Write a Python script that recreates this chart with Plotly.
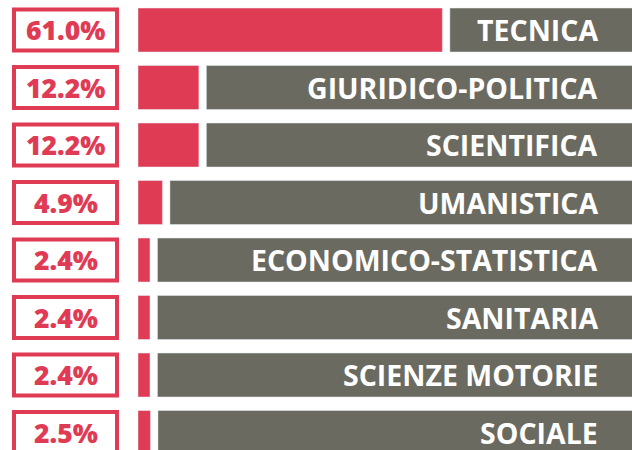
import plotly.graph_objects as go

categories = ["TECNICA", "GIURIDICO-POLITICA", "SCIENTIFICA", "UMANISTICA",
              "ECONOMICO-STATISTICA", "SANITARIA", "SCIENZE MOTORIE", "SOCIALE"]
values = [61.0, 12.2, 12.2, 4.9, 2.4, 2.4, 2.4, 2.5]

RED = "#E03B55"
GRAY = "#6B6A60"
GAP = 1.5
W, H = 632, 450
L = 138

rows = list(range(len(categories)))

fig = go.Figure()
fig.add_bar(y=rows, x=values, base=0, orientation="h", marker_color=RED,
            width=0.765, hoverinfo="skip")
fig.add_bar(y=rows, x=[100 - v - GAP for v in values], base=[v + GAP for v in values],
            orientation="h", marker_color=GRAY, width=0.765, hoverinfo="skip")

pw = W - L
def px2paper(p):
    return (p - L) / pw

for r, c, v in zip(rows, categories, values):
    fig.add_shape(type="rect", xref="paper", yref="y",
                  x0=px2paper(14), x1=px2paper(117), y0=r - 0.357, y1=r + 0.357,
                  line=dict(color=RED, width=4), fillcolor="white", layer="above")
    fig.add_annotation(xref="paper", yref="y", x=px2paper(65.5), y=r,
                       text=f"{v:.1f}%", showarrow=False, xanchor="center", yanchor="middle",
                       font=dict(family="Open Sans", size=26.5, color=RED, weight=800))
    fig.add_annotation(xref="paper", yref="y", x=px2paper(600), y=r,
                       text=c, showarrow=False, xanchor="right", yanchor="middle",
                       font=dict(family="Open Sans", size=28.5, color="white", weight=700))

fig.update_layout(
    width=W, height=H, margin=dict(l=L, r=0, t=0, b=0),
    paper_bgcolor="white", plot_bgcolor="white",
    barmode="overlay", showlegend=False,
    xaxis=dict(range=[0, 99], visible=False, fixedrange=True),
    yaxis=dict(range=[7.304, -0.522], visible=False, fixedrange=True),
)
fig.write_html("out.html")
